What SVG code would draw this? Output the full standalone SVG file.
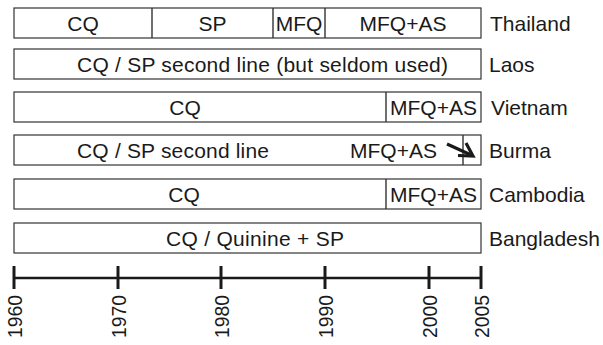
<svg xmlns="http://www.w3.org/2000/svg" width="603" height="345" viewBox="0 0 603 345">
<style>
.box{fill:#fff;stroke:#333;stroke-width:1.2}
.div{stroke:#333;stroke-width:1.4;fill:none}
text{font-family:"Liberation Sans",Arial,sans-serif;font-size:21px;fill:#1a1a1a}
.m{text-anchor:middle}
.yr{font-size:19.4px}
.axis{stroke:#1a1a1a;stroke-width:2.6;fill:none}
.tick{stroke:#1a1a1a;stroke-width:3;fill:none}
</style>
<rect width="603" height="345" fill="#fff"/>
<g id="thailand">
<rect class="box" x="14" y="8" width="467" height="30"/>
<line class="div" x1="152" y1="8" x2="152" y2="38"/>
<line class="div" x1="273" y1="8" x2="273" y2="38"/>
<line class="div" x1="325" y1="8" x2="325" y2="38"/>
<text class="m" x="83" y="30.5">CQ</text>
<text class="m" x="212.5" y="30.5">SP</text>
<text class="m" x="299" y="30.5">MFQ</text>
<text class="m" x="403" y="30.5">MFQ+AS</text>
<text x="490" y="30.5">Thailand</text>
</g>
<g id="laos">
<rect class="box" x="14" y="49" width="467" height="30"/>
<text x="77" y="71.5" textLength="371" lengthAdjust="spacing">CQ / SP second line (but seldom used)</text>
<text x="489" y="71.5">Laos</text>
</g>
<g id="vietnam">
<rect class="box" x="14" y="92" width="467" height="30"/>
<line class="div" x1="386" y1="92" x2="386" y2="122"/>
<text class="m" x="185" y="114.5">CQ</text>
<text class="m" x="433.5" y="114.5">MFQ+AS</text>
<text x="491" y="114.5">Vietnam</text>
</g>
<g id="burma">
<rect class="box" x="14" y="135" width="467" height="30"/>
<line class="div" x1="463" y1="135" x2="463" y2="165"/>
<text x="77" y="157.5" textLength="192" lengthAdjust="spacing">CQ / SP second line</text>
<text x="350" y="157.5">MFQ+AS</text>
<text x="489" y="157.5">Burma</text>
</g>
<g id="cambodia">
<rect class="box" x="14" y="179" width="467" height="30"/>
<line class="div" x1="386" y1="179" x2="386" y2="209"/>
<text class="m" x="184" y="201.5">CQ</text>
<text class="m" x="433.5" y="201.5">MFQ+AS</text>
<text x="489" y="201.5">Cambodia</text>
</g>
<g id="bangladesh">
<rect class="box" x="14" y="223" width="467" height="30"/>
<text x="166" y="245.5" textLength="178" lengthAdjust="spacing">CQ / Quinine + SP</text>
<text x="489" y="245.5">Bangladesh</text>
</g>
<g id="connectors">
<line x1="447" y1="144" x2="470" y2="154.5" stroke="#1a1a1a" stroke-width="3.2"/>
<polyline points="458,155.5 473,156 466,143" fill="none" stroke="#1a1a1a" stroke-width="3.2" stroke-linejoin="miter"/>
</g>
<g id="axis">
<line class="axis" x1="14" y1="278" x2="481" y2="278"/>
<line class="tick" x1="14" y1="266" x2="14" y2="289"/>
<line class="tick" x1="118" y1="266" x2="118" y2="289"/>
<line class="tick" x1="221" y1="266" x2="221" y2="289"/>
<line class="tick" x1="325" y1="266" x2="325" y2="289"/>
<line class="tick" x1="429" y1="266" x2="429" y2="289"/>
<line class="tick" x1="481" y1="266" x2="481" y2="289"/>
<text class="yr" transform="translate(21.5,338) rotate(-90)">1960</text>
<text class="yr" transform="translate(125.5,338) rotate(-90)">1970</text>
<text class="yr" transform="translate(228.5,338) rotate(-90)">1980</text>
<text class="yr" transform="translate(332.5,338) rotate(-90)">1990</text>
<text class="yr" transform="translate(436.5,338) rotate(-90)">2000</text>
<text class="yr" transform="translate(488.5,338) rotate(-90)">2005</text>
</g>
</svg>
